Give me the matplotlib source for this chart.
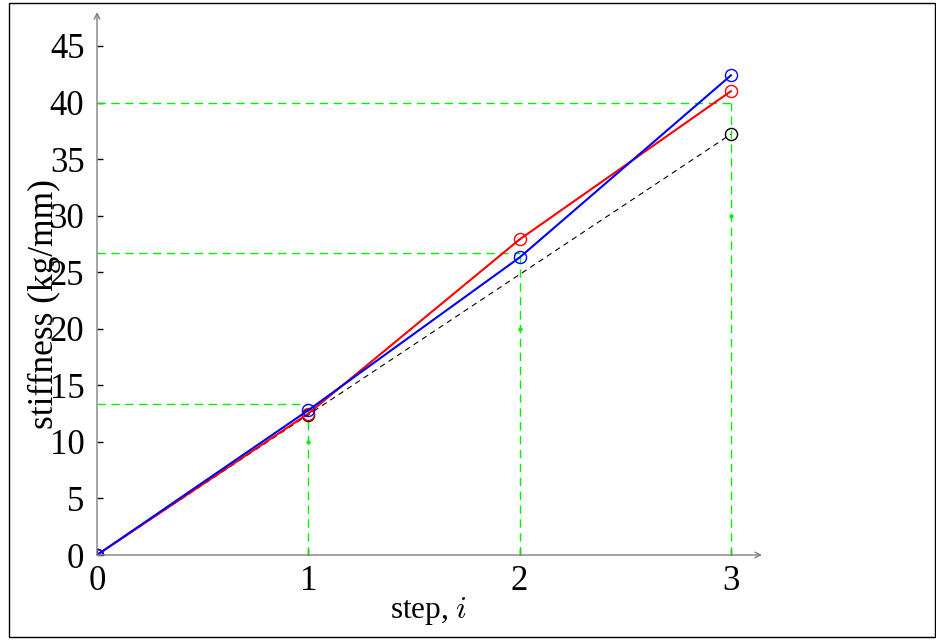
import matplotlib
matplotlib.use("Agg")
import matplotlib.pyplot as plt
from matplotlib.patches import Rectangle

plt.rcParams['font.family'] = ['Liberation Serif', 'DejaVu Serif']
plt.rcParams['mathtext.fontset'] = 'cm'

# data
steps = [0, 1, 2, 3]
target_steps = [1, 2, 3]
targets = [40 / 3, 80 / 3, 40]
guide = [0, 10, 20, 30]
linear_x = [0, 1, 3]
linear_y = [0, 12.4, 37.2]
red_y = [0, 12.5, 27.9, 41.0]
blue_y = [0, 12.8, 26.3, 42.4]
yticks = list(range(0, 50, 5))

fig = plt.figure(figsize=(9.37, 6.4), dpi=100)
ax = fig.add_axes([97 / 937, 85 / 640, 665 / 937, 543 / 640])
ax.set_xlim(0, 3.147)
ax.set_ylim(0, 48.0)

green = '#00ee00'
dash = (0, (6, 4))
ax.hlines(targets, 0, target_steps, colors=green, linestyles=dash, lw=1)
ax.vlines(target_steps, 0, targets, colors=green, linestyles=dash, lw=1)
ax.plot(steps, guide, 'o', color=green, ms=2, ls='none')

ax.plot(linear_x, linear_y, color='black', lw=0.8, ls=(0, (5, 4)),
        marker='o', mfc='none', mec='black', ms=8.7, mew=1)
ax.plot(steps, red_y, color='red', lw=1.5,
        marker='o', mfc='none', mec='red', ms=8.7, mew=1)
ax.plot(steps, blue_y, color='blue', lw=1.5,
        marker='o', mfc='none', mec='blue', ms=8.7, mew=1)

for s in ax.spines.values():
    s.set_visible(False)
ax.annotate('', xy=(3.147, 0), xytext=(0, 0), xycoords='data',
            arrowprops=dict(arrowstyle='->', color='gray', lw=1, shrinkA=0, shrinkB=0),
            annotation_clip=False)
ax.annotate('', xy=(0, 48.0), xytext=(0, 0), xycoords='data',
            arrowprops=dict(arrowstyle='->', color='gray', lw=1, shrinkA=0, shrinkB=0),
            annotation_clip=False)

ax.set_xticks(steps)
ax.set_yticks(yticks)
ax.tick_params(direction='in', length=4, width=1, color='black', labelsize=25)
ax.tick_params(axis='y', pad=9)
ax.tick_params(axis='x', pad=7)

ax.set_xlabel('step, $i$', fontsize=22.5)
ax.set_ylabel('stiffness (kg/mm)', fontsize=25.5)
ax.xaxis.set_label_coords(0.498, -0.074)
ax.yaxis.set_label_coords(-0.054, 0.463)

fig.patches.append(Rectangle((9.5 / 937, 3 / 640), 926 / 937, 634.5 / 640,
                             transform=fig.transFigure, fill=False,
                             edgecolor='black', lw=1))

fig.savefig('out.png', dpi=100)
